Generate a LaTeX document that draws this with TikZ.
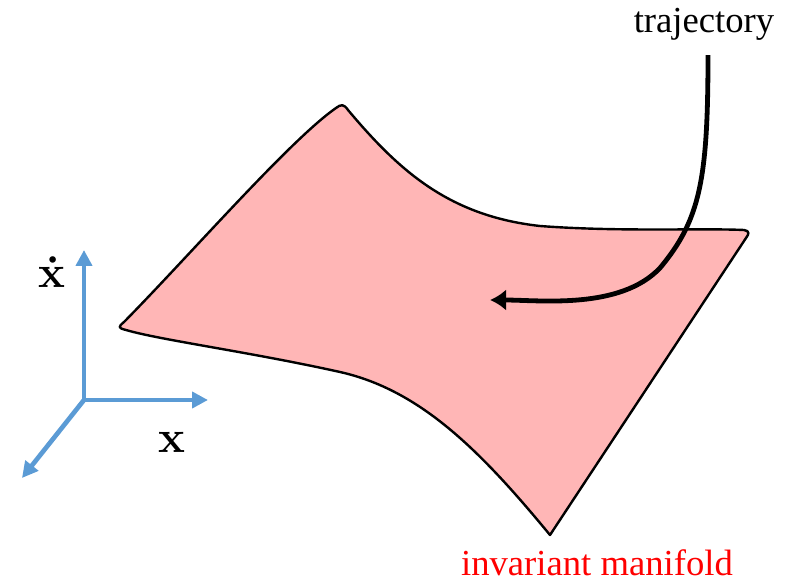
\documentclass[tikz,border=0pt]{standalone}
\usepackage{amsmath}
\usepackage[no-math]{fontspec}
\setmainfont{Liberation Serif}
\newfontfamily\lmfont{Latin Modern Roman}
\usetikzlibrary{arrows.meta}
\definecolor{manifoldpink}{RGB}{255,182,182}
\definecolor{axisblue}{RGB}{91,155,213}
\tikzset{
  surface/.style={draw=black,line width=1.8pt,fill=manifoldpink,line join=round},
  axis/.style={draw=axisblue,line width=3.5pt,-{Triangle[length=12pt,width=12pt]}},
  traj/.style={draw=black,line width=3.6pt,-{Latex[length=12pt,width=16pt]}},
  lbl/.style={inner sep=0pt,font=\fontsize{27.5}{30}\selectfont},
  axlbl/.style={inner sep=0pt,anchor=base,font=\lmfont\bfseries\fontsize{34}{36}\selectfont}
}
\begin{document}
\begin{tikzpicture}[x=0.75pt,y=-0.75pt]
        \useasboundingbox (0,0) rectangle (790,581);
        % Varietat invariant
        \draw[surface] (124,322) .. controls (190,255) and (290,140) .. (336,108)
                     .. controls (341,104) and (344,104) .. (348,110)
                     .. controls (400,172) and (450,216) .. (540,226)
                     .. controls (620,232) and (700,228) .. (744,230)
                     .. controls (750,231) and (749,234) .. (746,238)
                     -- (550,535)
                     .. controls (480,450) and (420,390) .. (340,372)
                     .. controls (250,352) and (160,340) .. (126,330)
                     .. controls (118,328) and (118,327) .. cycle;
        % Eixos
        \coordinate (o) at (84,400);
        \coordinate (xd) at (84,250);
        \coordinate (xx) at (208,400);
        \coordinate (zz) at (22,478);
        \draw[axis] (o) -- (xd);
        \draw[axis] (o) -- (xx);
        \draw[axis] (o) -- (zz);
        \node[axlbl] (lxd) at (52,288) {\.{x}};
        \node[axlbl] (lx) at (172,452) {x};
        % Trajectoria
        \node[lbl,anchor=base] (trajlabel) at (704,33) {trajectory};
        \coordinate (tend) at (490,300);
        \draw[traj] (trajlabel.south)++(4,14) .. controls (708,180) and (700,220) .. (660,268)
                     .. controls (620,310) and (540,300) .. (tend);
        \node[lbl,anchor=base,text=red] (manlabel) at (597,575) {invariant manifold};
\end{tikzpicture}
\end{document}
